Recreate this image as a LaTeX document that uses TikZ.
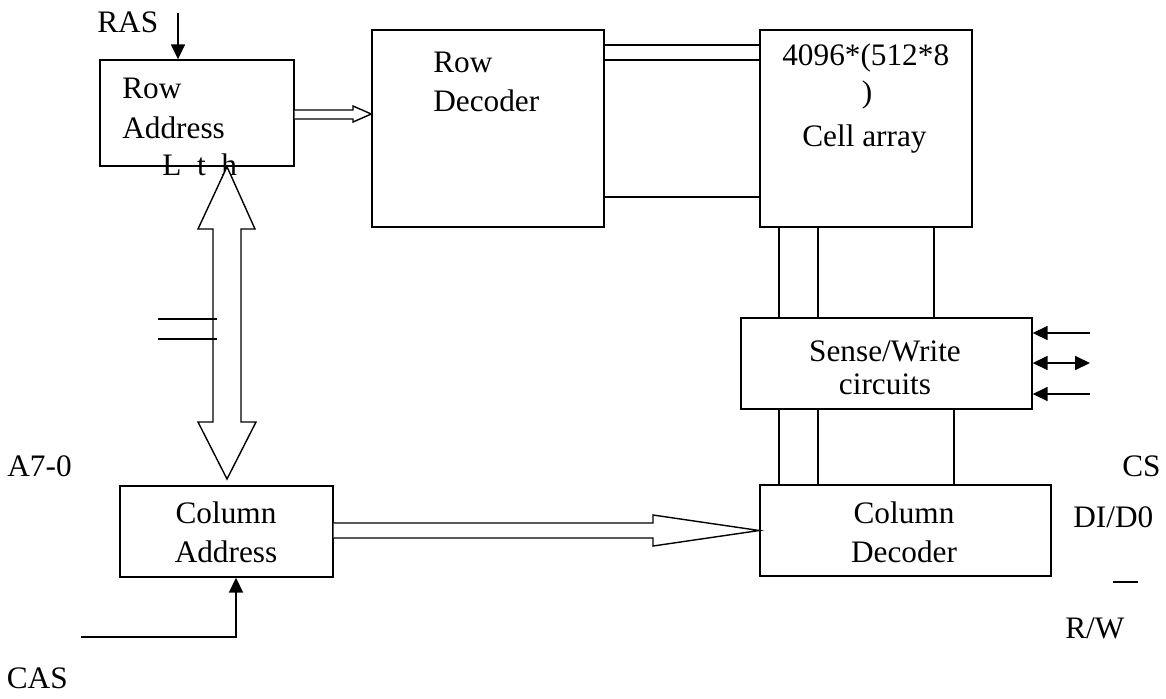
\documentclass[tikz,border=0pt]{standalone}
\usepackage{fontspec}
\setmainfont{Liberation Serif}
\usetikzlibrary{arrows.meta,fit}

\tikzset{
  blk/.style={draw, line width=0.8pt, inner sep=0pt},
  lbl/.style={inner sep=0pt, font=\fontsize{17.8}{20.4}\selectfont},
  wire/.style={line width=0.8pt},
  sig/.style={line width=0.8pt, -{Triangle[length=8.5pt,width=8pt]}},
  dsig/.style={line width=0.8pt, {Triangle[length=8.5pt,width=8pt]}-{Triangle[length=8.5pt,width=8pt]}},
  bus/.style={line width=0.8pt, fill=white, line join=miter},
}

\begin{document}
\begin{tikzpicture}[x=0.02cm, y=-0.02cm]
\useasboundingbox (0,0) rectangle (1166,698);
% blocks
\node[blk, fit={(100,60) (294,166)}] (rowaddr) {};
\node[blk, fit={(372,30) (604,227)}] (rowdec) {};
\node[blk, fit={(760,30) (972,227)}] (cells) {};
\node[blk, fit={(741,318) (1032,409)}] (sense) {};
\node[blk, fit={(120,486) (333,577)}] (coladdr) {};
\node[blk, fit={(760,485) (1051,576)}] (coldec) {};

% texts in the blocks
\node[lbl, anchor=base west] (ra1) at (122,98) {Row};
\node[lbl, anchor=base west] (ra2) at (122,138) {Address};
\node[lbl, anchor=base west] (ra3) at (162,175) {L\ \ t\ \ h};
\node[lbl, anchor=base west] (rd1) at (433,72) {Row};
\node[lbl, anchor=base west] (rd2) at (433,111) {Decoder};
\node[lbl, anchor=base west] (ca1) at (782,65) {4096*(512*8};
\node[lbl, anchor=base] (ca2) at (867,102) {)};
\node[lbl, anchor=base west] (ca3) at (802,146) {Cell array};
\node[lbl, anchor=base] (sw1) at (885,361) {Sense/Write};
\node[lbl, anchor=base] (sw2) at (885,394) {circuits};
\node[lbl, anchor=base] (cd1) at (904,523) {Column};
\node[lbl, anchor=base] (cd2) at (904,562) {Decoder};
\node[lbl, anchor=base] (cl1) at (226,523) {Column};
\node[lbl, anchor=base] (cl2) at (226,562) {Address};

% outside labels
\node[lbl, anchor=base west] (ras) at (97,32) {RAS};
\node[lbl, anchor=base east] (addr) at (72,476) {A7-0};
\node[lbl, anchor=base east] (cas) at (68,688) {CAS};
\node[lbl, anchor=base west] (cs) at (1122,476) {CS};
\node[lbl, anchor=base west] (dido) at (1073,527) {DI/D0};
\node[lbl, anchor=base west] (rw) at (1065,638) {R/W};
\draw[wire] (1113,582) -- (1138,582);

% row address to row decoder
\draw[bus] (rowaddr.east |- 0,110) -- (353,110) -- (353,106) -- (rowdec.west |- 0,114)
  -- (353,122) -- (353,119) -- (rowaddr.east |- 0,119);

% address bus
\draw[bus] (227,0 |- rowaddr.south) -- (255,229) -- (241,229) -- (241,422) -- (256,422)
  -- (227,479) -- (198,422) -- (213,422) -- (213,229) -- (198,229) -- cycle;
\draw[wire] (158,319) -- (217,319);
\draw[wire] (158,339) -- (217,339);

% column address to column decoder
\draw[bus] (coladdr.east |- 0,523) -- (653,523) -- (653,515) -- (coldec.west |- 0,530.5)
  -- (653,546) -- (653,538) -- (coladdr.east |- 0,538);

% lines between decoder, array and circuits
\foreach \y in {45,60,197}
  \draw[wire] (rowdec.east |- 0,\y) -- (cells.west |- 0,\y);
\foreach \x in {779,818,934}
  \draw[wire] (cells.south -| \x,0) -- (sense.north -| \x,0);
\foreach \x in {779,818,954}
  \draw[wire] (sense.south -| \x,0) -- (coldec.north -| \x,0);

% control signals
\coordinate (rasin) at (178,13);
\coordinate (casin) at (81,637);
\coordinate (csin) at (1090,333);
\coordinate (dio) at (1090,363);
\coordinate (rwin) at (1090,394);
\draw[sig] (rasin) -- (rasin |- rowaddr.north);
\draw[sig] (casin) -| (236,0 |- coladdr.south);
\draw[sig] (csin) -- (sense.east |- csin);
\draw[dsig] (sense.east |- dio) -- (dio);
\draw[sig] (rwin) -- (sense.east |- rwin);
\end{tikzpicture}
\end{document}
